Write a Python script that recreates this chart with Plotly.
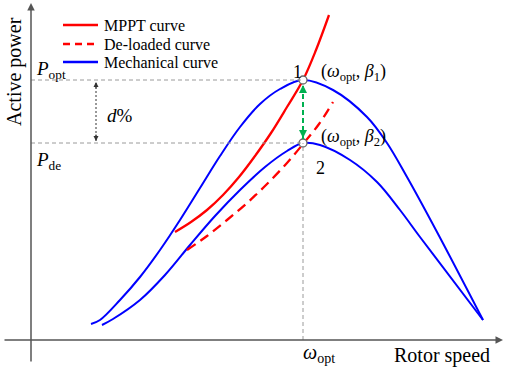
import plotly.graph_objects as go

# ---- data (rotor speed / active power, arbitrary units, origin at axes) ----
mech1_x = [60, 69, 89, 109, 129, 149, 169, 189, 209, 229, 249, 272, 302, 336, 356, 376, 406, 452]
mech1_y = [16, 20, 40, 63, 90, 120, 152, 184, 213, 236, 251, 260, 250, 223, 197, 163, 108, 20]

mech2_x = [71, 82, 109, 134, 159, 184, 209, 234, 256, 272, 289, 319, 346, 369, 389, 452]
mech2_y = [15, 21, 40, 65, 95, 124, 150, 173, 189, 197, 195, 180, 158, 130, 103, 20]

mppt_x = [144, 160, 176, 192, 208, 224, 240, 256, 272, 285, 298]
mppt_y = [108, 118, 130, 145, 163, 184, 207, 233, 260, 290, 325]

deload_x = [156, 176, 196, 216, 236, 256, 272, 288, 302]
deload_y = [90, 104, 120, 137, 156, 177, 196, 216, 238]

w_opt = 272
P_opt = 260
P_de = 197

legend_labels = ["MPPT curve", "De-loaded curve", "Mechanical curve"]

FONT = "Liberation Serif, Times New Roman, serif"
RED = "#ff0000"
BLUE = "#0000ff"
GREEN = "#00b050"
GRAY = "#9a9a9a"
AX = "#555555"

fig = go.Figure()

# reference lines
fig.add_shape(type="line", x0=0, x1=w_opt, y0=P_opt, y1=P_opt,
              line=dict(color=GRAY, width=1, dash="4px,3px"))
fig.add_shape(type="line", x0=0, x1=w_opt, y0=P_de, y1=P_de,
              line=dict(color=GRAY, width=1, dash="4px,3px"))
fig.add_shape(type="line", x0=w_opt, x1=w_opt, y0=0, y1=P_de,
              line=dict(color=GRAY, width=1, dash="4px,3px"))

# curves
fig.add_trace(go.Scatter(x=mech1_x, y=mech1_y, mode="lines", line=dict(color=BLUE, width=2, shape="spline"),
                         hoverinfo="skip", showlegend=False))
fig.add_trace(go.Scatter(x=mech2_x, y=mech2_y, mode="lines", line=dict(color=BLUE, width=2, shape="spline"),
                         hoverinfo="skip", showlegend=False))
fig.add_trace(go.Scatter(x=mppt_x, y=mppt_y, mode="lines", line=dict(color=RED, width=2.3, shape="spline"),
                         hoverinfo="skip", showlegend=False))
fig.add_trace(go.Scatter(x=deload_x, y=deload_y, mode="lines",
                         line=dict(color=RED, width=2.3, shape="spline", dash="10px,6px"),
                         hoverinfo="skip", showlegend=False))

# green dashed double arrow
fig.add_shape(type="line", x0=w_opt, x1=w_opt, y0=P_de + 4, y1=P_opt - 4,
              line=dict(color=GREEN, width=2, dash="5px,3px"))
for tip, tail in [(P_opt - 5, P_opt - 14), (P_de + 5, P_de + 14)]:
    fig.add_annotation(x=w_opt, y=tip, ax=w_opt, ay=tail, axref="x", ayref="y", xref="x", yref="y",
                       showarrow=True, arrowhead=2, arrowsize=1, arrowwidth=1.6, arrowcolor=GREEN, text="")

# operating points
fig.add_trace(go.Scatter(x=[w_opt, w_opt], y=[P_opt, P_de], mode="markers",
                         marker=dict(size=8, color="white", line=dict(color="#666666", width=1.3)),
                         hoverinfo="skip", showlegend=False))

# d% arrow
dx = 65
fig.add_shape(type="line", x0=dx, x1=dx, y0=P_de + 2, y1=P_opt - 2,
              line=dict(color="#333333", width=1, dash="2px,2px"))
for tip, tail in [(P_opt - 2, P_opt - 10), (P_de + 2, P_de + 10)]:
    fig.add_annotation(x=dx, y=tip, ax=dx, ay=tail, axref="x", ayref="y", xref="x", yref="y",
                       showarrow=True, arrowhead=2, arrowsize=1, arrowwidth=1, arrowcolor="#333333", text="")

# axes with arrows
fig.add_annotation(x=0, y=337, ax=0, ay=-23, axref="x", ayref="y", xref="x", yref="y",
                   showarrow=True, arrowhead=2, arrowsize=1, arrowwidth=1.5, arrowcolor=AX, text="")
fig.add_annotation(x=472, y=0, ax=-28, ay=0, axref="x", ayref="y", xref="x", yref="y",
                   showarrow=True, arrowhead=2, arrowsize=1, arrowwidth=1.5, arrowcolor=AX, text="")

def txt(x, y, s, size, xanchor="center", angle=0):
    fig.add_annotation(x=x, y=y, xref="x", yref="y", text=s, showarrow=False, xanchor=xanchor,
                       yanchor="middle", textangle=angle, font=dict(family=FONT, size=size, color="black"))

txt(-17, 268, "Active power", 20, angle=-90)
txt(411, -15, "Rotor speed", 20)
txt(288, -13, "<i>ω</i><sub>opt</sub>", 20)
txt(3, 270, "<i>P</i><sub>opt</sub>", 19, xanchor="left")
txt(3, 179, "<i>P</i><sub>de</sub>", 19, xanchor="left")
txt(266, 268, "1", 18)
txt(289, 172, "2", 18)
txt(288, 268, "(<i>ω</i><sub>opt</sub>, <i>β</i><sub>1</sub>)", 18, xanchor="left")
txt(288, 203, "(<i>ω</i><sub>opt</sub>, <i>β</i><sub>2</sub>)", 18, xanchor="left")
txt(89, 225, "<i>d</i>%", 19)

# legend (custom)
leg_y = [315, 296, 278]
leg_style = [dict(color=RED, width=2.3), dict(color=RED, width=2.3, dash="7px,5px"), dict(color=BLUE, width=2.3)]
for lab, yy, st in zip(legend_labels, leg_y, leg_style):
    fig.add_shape(type="line", x0=32, x1=67, y0=yy, y1=yy, line=st)
    txt(71, yy, lab, 16, xanchor="left")

fig.update_layout(
    width=512, height=368, margin=dict(l=0, r=0, t=0, b=0),
    paper_bgcolor="white", plot_bgcolor="white",
    xaxis=dict(range=[-31, 481], visible=False, fixedrange=True),
    yaxis=dict(range=[-28, 340], visible=False, fixedrange=True),
    showlegend=False,
)
fig.write_html("out.html", config={"displayModeBar": False},
               post_script="document.body.style.margin='0px';")
